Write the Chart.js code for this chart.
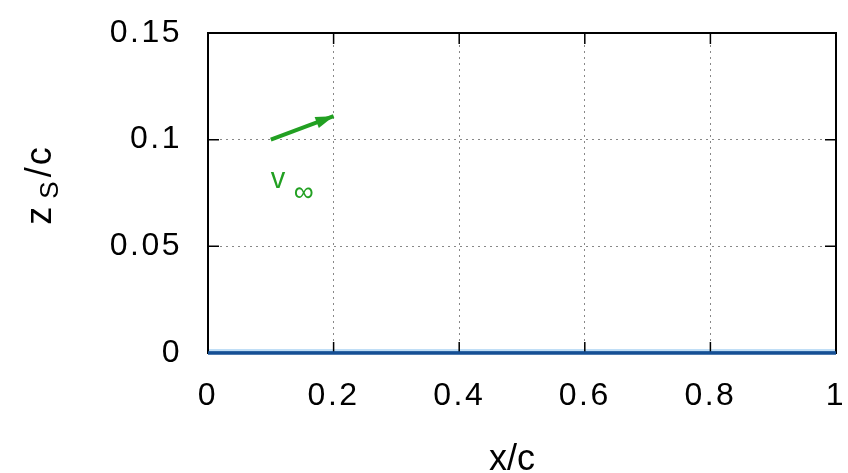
<!DOCTYPE html>
<html>
<head>
<meta charset="utf-8">
<script src="https://cdn.jsdelivr.net/npm/chart.js@4.4.1/dist/chart.umd.min.js"></script>
<style>
  html, body { margin: 0; padding: 0; background: #fff; }
  #chart { display: block; }
</style>
</head>
<body>
<canvas id="chart" width="848" height="473"></canvas>
<script>
// axis ticks
const xTicks = [0, 0.2, 0.4, 0.6, 0.8, 1];
const xTickLabels = ['0', '0.2', '0.4', '0.6', '0.8', '1'];
const yTicks = [0, 0.05, 0.1, 0.15];
const yTickLabels = ['0', '0.05', '0.1', '0.15'];

// surface line z_S = 0
const surfaceX = [0, 1];
const surfaceZ = [0, 0];

// free stream arrow (tail -> head)
const arrowX = [0.1, 0.2];
const arrowZ = [0.1, 0.111];
const arrowLabelAt = { x: 0.1, y: 0.079 };

const green = '#22a022';
const blue = '#154f94';
const font = 'Liberation Sans, Arial, sans-serif';

// frame, inward ticks, arrow head and axis titles
const extras = {
    id: 'extras',
    beforeDraw(chart) {
        chart.ctx.letterSpacing = '2.5px';
    },
    afterDraw(chart) {
        const ctx = chart.ctx;
        const a = chart.chartArea;
        const xs = chart.scales.x, ys = chart.scales.y;
        ctx.save();

        // inward tick marks
        ctx.strokeStyle = '#000';
        ctx.lineWidth = 1.5;
        const len = 11;
        xTicks.forEach(v => {
            const px = xs.getPixelForValue(v);
            ctx.beginPath();
            ctx.moveTo(px, a.bottom); ctx.lineTo(px, a.bottom - len);
            ctx.moveTo(px, a.top); ctx.lineTo(px, a.top + len);
            ctx.stroke();
        });
        yTicks.forEach(v => {
            const py = ys.getPixelForValue(v);
            ctx.beginPath();
            ctx.moveTo(a.left, py); ctx.lineTo(a.left + len, py);
            ctx.moveTo(a.right, py); ctx.lineTo(a.right - len, py);
            ctx.stroke();
        });

        // frame
        ctx.lineWidth = 2;
        ctx.strokeRect(a.left, a.top, a.right - a.left, a.bottom - a.top);

        // surface line again, over the frame
        const sx0 = xs.getPixelForValue(surfaceX[0]), sx1 = xs.getPixelForValue(surfaceX[1]);
        const sy = ys.getPixelForValue(surfaceZ[0]);
        ctx.strokeStyle = blue;
        ctx.lineWidth = 3.5;
        ctx.beginPath();
        ctx.moveTo(sx0, sy); ctx.lineTo(sx1, sy);
        ctx.stroke();

        // arrow head
        const meta = chart.getDatasetMeta(2);
        const p0 = meta.data[0], p1 = meta.data[1];
        const ang = Math.atan2(p1.y - p0.y, p1.x - p0.x);
        const hl = 18, hw = 6;
        ctx.fillStyle = green;
        ctx.beginPath();
        ctx.moveTo(p1.x, p1.y);
        ctx.lineTo(p1.x - hl * Math.cos(ang) + hw * Math.sin(ang), p1.y - hl * Math.sin(ang) - hw * Math.cos(ang));
        ctx.lineTo(p1.x - hl * Math.cos(ang) - hw * Math.sin(ang), p1.y - hl * Math.sin(ang) + hw * Math.cos(ang));
        ctx.closePath();
        ctx.fill();

        // v_inf label
        ctx.letterSpacing = '0px';
        const lx = xs.getPixelForValue(arrowLabelAt.x);
        const ly = ys.getPixelForValue(arrowLabelAt.y);
        ctx.textBaseline = 'alphabetic';
        ctx.textAlign = 'left';
        ctx.font = '29px ' + font;
        ctx.fillText('v', lx, ly + 4);
        ctx.font = '28px ' + font;
        ctx.fillText('\u221e', lx + 23, ly + 17);

        // x axis title
        ctx.fillStyle = '#000';
        ctx.textAlign = 'center';
        ctx.font = '36px ' + font;
        ctx.fillText('x/c', (a.left + a.right) / 2 - 10, 470);

        // y axis title z_S/c
        ctx.translate(38, (a.top + a.bottom) / 2 - 7);
        ctx.rotate(-Math.PI / 2);
        ctx.textAlign = 'left';
        ctx.textBaseline = 'alphabetic';
        ctx.letterSpacing = '2px';
        ctx.font = '36px ' + font;
        const zw = ctx.measureText('z').width;
        ctx.font = '26px ' + font;
        const sw = ctx.measureText('S').width;
        ctx.font = '36px ' + font;
        const cw = ctx.measureText('/c').width;
        let tx = -(zw + 6 + sw + cw) / 2;
        ctx.fillText('z', tx, 13);
        tx += zw + 6;
        ctx.font = '26px ' + font;
        ctx.fillText('S', tx, 20);
        tx += sw + 2;
        ctx.font = '36px ' + font;
        ctx.fillText('/c', tx, 13);

        ctx.restore();
    }
};

new Chart(document.getElementById('chart'), {
    type: 'line',
    data: {
        datasets: [
            {
                data: surfaceX.map((x, i) => ({ x: x, y: surfaceZ[i] })),
                borderColor: 'rgba(150,200,240,0.6)',
                borderWidth: 8,
                pointRadius: 0
            },
            {
                data: surfaceX.map((x, i) => ({ x: x, y: surfaceZ[i] })),
                borderColor: blue,
                borderWidth: 3.5,
                pointRadius: 0
            },
            {
                data: arrowX.map((x, i) => ({ x: x, y: arrowZ[i] })),
                borderColor: green,
                borderWidth: 4,
                pointRadius: 0
            }
        ]
    },
    options: {
        responsive: false,
        animation: false,
        devicePixelRatio: 1,
        layout: { padding: { top: 33, right: 12, left: 0, bottom: 0 } },
        plugins: { legend: { display: false }, tooltip: { enabled: false } },
        scales: {
            x: {
                type: 'linear',
                min: 0, max: 1,
                afterBuildTicks: s => { s.ticks = xTicks.map(v => ({ value: v })); },
                afterFit: s => { s.height = 120; s.paddingLeft = 0; s.paddingRight = 0; },
                grid: { color: '#888', lineWidth: 1, drawTicks: false },
                border: { display: false, dash: [2, 4] },
                ticks: {
                    padding: 24,
                    color: '#000',
                    font: { family: font, size: 32 },
                    callback: (v, i) => xTickLabels[i]
                }
            },
            y: {
                type: 'linear',
                min: 0, max: 0.15,
                afterBuildTicks: s => { s.ticks = yTicks.map(v => ({ value: v })); },
                afterFit: s => { s.width = 208; s.paddingTop = 0; s.paddingBottom = 0; },
                grid: { color: '#888', lineWidth: 1, drawTicks: false },
                border: { display: false, dash: [2, 4] },
                ticks: {
                    padding: 26,
                    color: '#000',
                    font: { family: font, size: 32 },
                    callback: (v, i) => yTickLabels[i]
                }
            }
        }
    },
    plugins: [extras]
});
</script>
</body>
</html>
